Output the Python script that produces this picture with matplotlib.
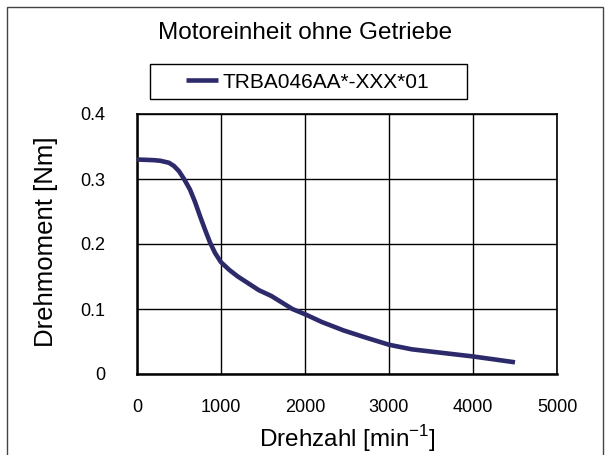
import matplotlib
matplotlib.use("Agg")
import matplotlib.pyplot as plt
from matplotlib.patches import Rectangle

plt.rcParams['font.family'] = ['Liberation Sans', 'DejaVu Sans']
plt.rcParams['mathtext.fontset'] = 'custom'
plt.rcParams['mathtext.rm'] = 'Liberation Sans'

speed = [0, 200, 280, 380, 440, 500, 560, 630, 690, 750, 810, 870, 930,
         1000, 1100, 1200, 1450, 1600, 1850, 2000, 2200, 2460, 2700, 3000,
         3270, 3600, 4000, 4500]
torque = [0.330, 0.329, 0.328, 0.325, 0.320, 0.312, 0.300, 0.284, 0.265,
          0.243, 0.222, 0.202, 0.186, 0.172, 0.160, 0.150, 0.129, 0.120,
          0.100, 0.092, 0.080, 0.067, 0.057, 0.045, 0.038, 0.033, 0.027,
          0.018]
series_name = "TRBA046AA*-XXX*01"
x_ticks = [0, 1000, 2000, 3000, 4000, 5000]
y_ticks = [0, 0.1, 0.2, 0.3, 0.4]
y_tick_labels = ["0", "0.1", "0.2", "0.3", "0.4"]

fig = plt.figure(figsize=(6.10, 4.55), dpi=100)
ax = fig.add_axes([137 / 610, 1 - 374 / 455, 420 / 610, 260 / 455])

line, = ax.plot(speed, torque, color="#2d2a6b", lw=3.3, solid_capstyle="butt",
                solid_joinstyle="round", label=series_name, zorder=3)

ax.set_xlim(0, 5000)
ax.set_ylim(0, 0.4)
ax.set_xticks(x_ticks)
ax.set_yticks(y_ticks)
ax.set_yticklabels(y_tick_labels)
ax.tick_params(axis="x", length=0, pad=18, labelsize=13)
ax.tick_params(axis="y", length=0, pad=23, labelsize=13)
ax.grid(True, color="black", lw=1.0)
for s in ax.spines.values():
    s.set_color("black")
    s.set_linewidth(1.2)
ax.spines["left"].set_linewidth(1.8)
ax.spines["bottom"].set_linewidth(1.8)

ax.set_xlabel(r"Drehzahl [min$^{\mathregular{-1}}$]", fontsize=17.5, labelpad=5)
ax.set_ylabel("Drehmoment [Nm]", fontsize=18.5)
ax.yaxis.set_label_coords(-0.187, 0.51)

fig.text(0.5, 1 - 33 / 455, "Motoreinheit ohne Getriebe", fontsize=17.5,
         ha="center", va="center")

# legend box
fig.legend(handles=[line], loc="center", bbox_to_anchor=(308 / 610, 1 - 82 / 455),
           frameon=False, fontsize=15, handlelength=1.5, handletextpad=0.25)
fig.add_artist(Rectangle((150 / 610, 1 - 99 / 455), 317 / 610, 35 / 455,
                         transform=fig.transFigure, fill=False, ec="black", lw=1.0))

# outer frame
fig.add_artist(Rectangle((7 / 610, -0.02), 596 / 610, 1.02 - 7 / 455,
                         transform=fig.transFigure, fill=False, ec="#444444", lw=1.0))

fig.savefig("out.png", dpi=100)
